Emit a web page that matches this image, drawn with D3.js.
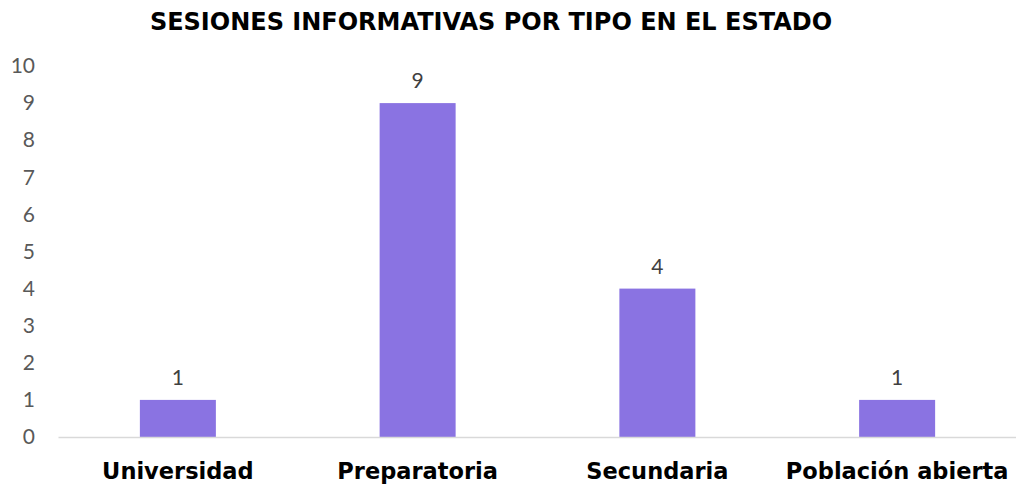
<!DOCTYPE html>
<html>
<head>
<meta charset="utf-8">
<script src="https://cdn.jsdelivr.net/npm/d3@7"></script>
<style>
  html, body { margin: 0; padding: 0; background: #fff; }
  svg { display: block; }
</style>
</head>
<body>
<svg id="chart" width="1016" height="492"></svg>
<script>
// Sesiones informativas por tipo
const categories = ["Universidad", "Preparatoria", "Secundaria", "Población abierta"];
const sessions = [1, 9, 4, 1];
const yTicks = [0, 1, 2, 3, 4, 5, 6, 7, 8, 9, 10];

const FONT = "'Century Gothic', 'URW Gothic', Lato, 'DejaVu Sans', sans-serif";
const BOLD = "'Century Gothic', 'URW Gothic', 'DejaVu Sans', sans-serif";
const svg = d3.select("#chart");

const x = d3.scaleBand().domain(categories).range([58, 1017]).paddingInner(0).paddingOuter(0);
const y = d3.scaleLinear().domain([0, 10]).range([437, 66]);
const barW = x.bandwidth() * 0.317;

// Title
svg.append("text")
  .attr("x", 491).attr("y", 30)
  .attr("text-anchor", "middle")
  .attr("font-family", BOLD).attr("font-weight", "bold")
  .attr("font-size", 24).attr("fill", "#000")
  .text("SESIONES INFORMATIVAS POR TIPO EN EL ESTADO");

// Y axis labels (no line)
const yAxis = d3.axisLeft(y).tickValues(yTicks).tickSize(0).tickPadding(0);
const gy = svg.append("g").attr("transform", "translate(35,0)").call(yAxis);
gy.select(".domain").remove();
gy.selectAll("text")
  .attr("font-family", FONT).attr("font-size", 21).attr("fill", "#595959");

// Bars
svg.append("g").selectAll("rect")
  .data(sessions)
  .join("rect")
  .attr("x", (d, i) => x(categories[i]) + (x.bandwidth() - barW) / 2)
  .attr("y", d => y(d))
  .attr("width", barW)
  .attr("height", d => y(0) - y(d))
  .attr("fill", "#8a73e2");

// Value labels
svg.append("g").selectAll("text")
  .data(sessions)
  .join("text")
  .attr("x", (d, i) => x(categories[i]) + x.bandwidth() / 2)
  .attr("y", d => y(d) - 15)
  .attr("text-anchor", "middle")
  .attr("font-family", FONT).attr("font-size", 21).attr("fill", "#404040")
  .text(d => d);

// X axis
const xAxis = d3.axisBottom(x).tickSize(0).tickPadding(0);
const gx = svg.append("g").attr("transform", `translate(0,${y(0)})`).call(xAxis);
gx.select(".domain").attr("stroke", "#d9d9d9").attr("stroke-width", 1.5);
gx.selectAll("text")
  .attr("dy", 0).attr("y", 42)
  .attr("font-family", BOLD).attr("font-weight", "bold")
  .attr("font-size", 22.5).attr("fill", "#000");
</script>
</body>
</html>
